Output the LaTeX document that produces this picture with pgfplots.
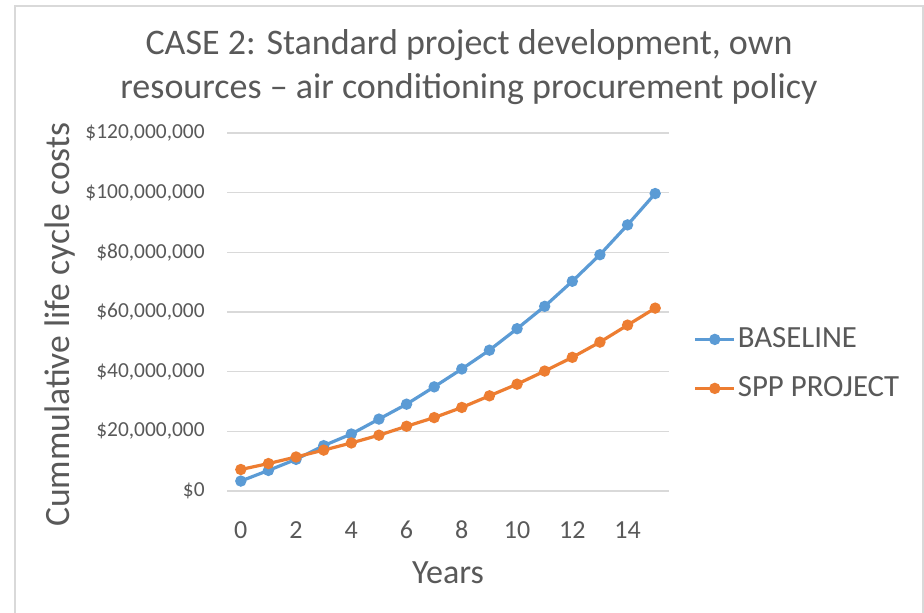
\documentclass[border=0pt]{standalone}
\usepackage{pgfplots}
\pgfplotsset{compat=1.18}
\usepackage{fontspec}
\setmainfont{Carlito}
\definecolor{xblue}{HTML}{5B9BD5}
\definecolor{xorange}{HTML}{ED7D31}
\definecolor{xtext}{HTML}{595959}
\definecolor{xgrid}{HTML}{D9D9D9}
\begin{document}
\begin{tikzpicture}
\useasboundingbox (0,0) rectangle (462pt,306.5pt);
\fill[white] (0,0) rectangle (462pt,306.5pt);
\draw[xgrid, line width=1pt] (7.5pt,-5pt) -- (7.5pt,303.5pt) -- (461.5pt,303.5pt) -- (461.5pt,-5pt);
\node[text=xtext, font=\fontsize{18}{21}\selectfont] at (234.5pt,284pt) {CASE 2: Standard project development, own};
\node[text=xtext, font=\fontsize{18}{21}\selectfont] at (234.5pt,262pt) {resources -- air conditioning procurement policy};
\begin{axis}[
  at={(113.5pt,61pt)}, anchor=south west,
  width=221pt, height=179pt, scale only axis,
  xmin=-0.5, xmax=15.5, ymin=0, ymax=120000000,
  axis line style={draw=none},
  tick style={draw=none},
  ymajorgrids, grid style={xgrid, line width=0.8pt},
  xtick={0,2,4,6,8,10,12,14},
  ytick={0,20000000,40000000,60000000,80000000,100000000,120000000},
  yticklabels={{\$0},{\$20,000,000},{\$40,000,000},{\$60,000,000},{\$80,000,000},{\$100,000,000},{\$120,000,000}},
  scaled y ticks=false,
  /pgf/number format/assume math mode=true,
  xticklabel style={font=\fontsize{13}{15}\selectfont, text=xtext, anchor=center, yshift=-19.5pt},
  yticklabel style={font=\fontsize{10.7}{13}\selectfont, text=xtext, inner sep=0pt, xshift=-11pt},
  xlabel={Years},
  ylabel={Cummulative life cycle costs},
  xlabel style={font=\fontsize{17}{20}\selectfont, text=xtext, at={(axis description cs:0.5,-0.229)}, anchor=center},
  ylabel style={font=\fontsize{17.8}{21}\selectfont, text=xtext, at={(axis description cs:-0.378,0.464)}, anchor=center},
  legend style={draw=none, fill=none, at={(1.055,0.355)}, anchor=west, inner sep=0pt,
    font=\fontsize{15.4}{18}\selectfont, text=xtext, row sep=11pt,
    nodes={inner sep=1pt, anchor=west}},
  legend cell align=left,
  legend image code/.code={\draw[#1, mark repeat=2, mark phase=2] plot coordinates {(0pt,0pt) (9.75pt,0pt) (19.5pt,0pt)};},
]
\addplot[xblue, line width=1.6pt, mark=*, mark size=2pt] coordinates {
(0,3330000) (1,6900000) (2,10600000) (3,15200000) (4,19100000) (5,24100000)
(6,29100000) (7,34900000) (8,40900000) (9,47200000) (10,54400000) (11,61900000)
(12,70300000) (13,79200000) (14,89200000) (15,99700000)};
\addlegendentry{BASELINE}
\addplot[xorange, line width=1.6pt, mark=*, mark size=2pt] coordinates {
(0,7200000) (1,9200000) (2,11400000) (3,13700000) (4,16100000) (5,18700000)
(6,21700000) (7,24600000) (8,28000000) (9,31900000) (10,35800000) (11,40200000)
(12,44800000) (13,49900000) (14,55600000) (15,61300000)};
\addlegendentry{SPP PROJECT}
\end{axis}
\end{tikzpicture}
\end{document}
